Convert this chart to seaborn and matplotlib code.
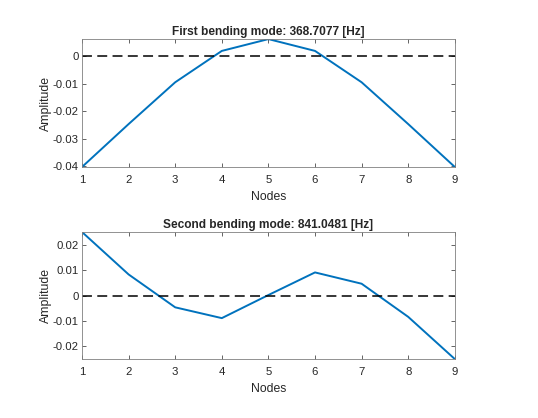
import matplotlib

matplotlib.use("Agg")
import matplotlib.pyplot as plt
import pandas as pd
import seaborn as sns

# mode shapes
nodes = [1, 2, 3, 4, 5, 6, 7, 8, 9]
first_mode = [-0.0402, -0.0246, -0.0094, 0.0020, 0.0063, 0.0020, -0.0094, -0.0246, -0.0402]
second_mode = [0.0253, 0.0084, -0.0047, -0.0090, 0.0002, 0.0092, 0.0047, -0.0085, -0.0253]
titles = ["First bending mode: 368.7077 [Hz]", "Second bending mode: 841.0481 [Hz]"]
first_yticks = [-0.04, -0.03, -0.02, -0.01, 0]
second_yticks = [-0.02, -0.01, 0, 0.01, 0.02]

sns.set_style("ticks")
plt.rcParams["font.family"] = ["Liberation Sans", "DejaVu Sans"]
plt.rcParams["xtick.direction"] = "in"
plt.rcParams["ytick.direction"] = "in"

edge = "#262626"
line_color = "#0072BD"


def plot_mode(ax, y, title, yticks):
    df = pd.DataFrame({"Nodes": nodes, "Amplitude": y})
    sns.lineplot(df, x="Nodes", y="Amplitude", ax=ax, color=line_color, linewidth=1.4)
    ax.axhline(0, color="black", linestyle=(0, (6.5, 3.5)), linewidth=1.1)
    ax.set_xlim(min(nodes), max(nodes))
    ax.set_ylim(min(y), max(y))
    ax.set_xticks(nodes)
    ax.set_yticks(yticks)
    ax.set_yticklabels([f"{t:g}" for t in yticks])
    ax.set_title(title, fontsize=8.6, fontweight="bold", pad=3)
    ax.set_xlabel("Nodes", fontsize=8.8, color=edge, labelpad=4)
    ax.set_ylabel("Amplitude", fontsize=8.8, color=edge, labelpad=0.5)
    ax.tick_params(labelsize=8.2, colors=edge, length=3, width=0.5,
                   top=True, right=True)
    ax.tick_params(axis="x", pad=6)
    ax.tick_params(axis="y", pad=2.5)
    for spine in ax.spines.values():
        spine.set_visible(True)
        spine.set_color("#808080")
        spine.set_linewidth(0.6)


fig = plt.figure(figsize=(5.38, 4.18), dpi=100)
ax1 = fig.add_axes([0.1524, 0.6005, 0.693, 0.306])
ax2 = fig.add_axes([0.1524, 0.141, 0.693, 0.304])

plot_mode(ax1, first_mode, titles[0], first_yticks)
plot_mode(ax2, second_mode, titles[1], second_yticks)

fig.savefig("out.png", dpi=100)
